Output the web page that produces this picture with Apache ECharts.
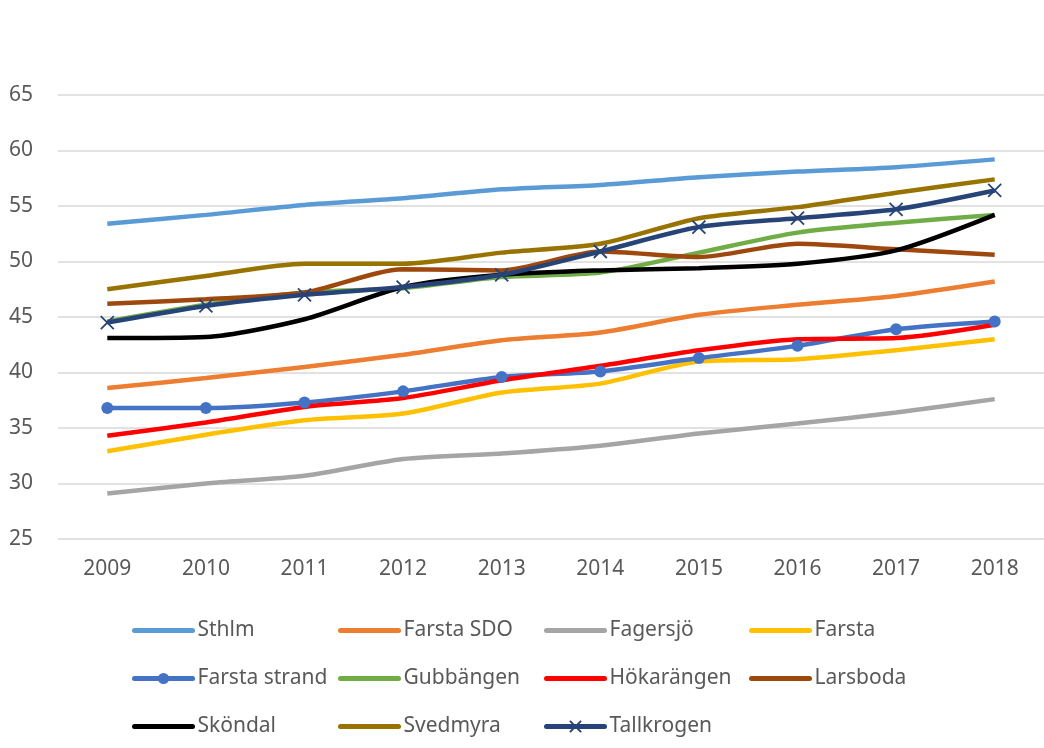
<!DOCTYPE html>
<html><head><meta charset="utf-8">
<script src="https://cdn.jsdelivr.net/npm/echarts@6/dist/echarts.min.js"></script>
<style>html,body{margin:0;padding:0;background:#fff}#c{width:1044px;height:748px}</style>
</head><body><div id="c"></div>
<script>
const years = ['2009','2010','2011','2012','2013','2014','2015','2016','2017','2018'];
const sthlm        = [53.4, 54.2, 55.1, 55.7, 56.5, 56.9, 57.6, 58.1, 58.5, 59.2];
const farstaSDO    = [38.6, 39.5, 40.5, 41.6, 42.9, 43.6, 45.2, 46.1, 46.9, 48.2];
const fagersjo     = [29.1, 30.0, 30.7, 32.2, 32.7, 33.4, 34.5, 35.4, 36.4, 37.6];
const farsta       = [32.9, 34.4, 35.7, 36.3, 38.2, 39.0, 41.0, 41.2, 42.0, 43.0];
const farstaStrand = [36.8, 36.8, 37.3, 38.3, 39.6, 40.1, 41.3, 42.4, 43.9, 44.6];
const gubbangen    = [44.6, 46.1, 47.2, 47.6, 48.6, 49.0, 50.8, 52.6, 53.5, 54.2];
const hokarangen   = [34.3, 35.5, 36.9, 37.7, 39.3, 40.6, 42.0, 43.0, 43.1, 44.3];
const larsboda     = [46.2, 46.6, 47.2, 49.3, 49.2, 50.9, 50.4, 51.6, 51.1, 50.6];
const skondal      = [43.1, 43.2, 44.8, 47.7, 48.8, 49.2, 49.4, 49.8, 51.0, 54.2];
const svedmyra     = [47.5, 48.7, 49.8, 49.8, 50.8, 51.6, 53.9, 54.9, 56.2, 57.4];
const tallkrogen   = [44.5, 46.0, 47.0, 47.7, 48.8, 50.9, 53.1, 53.9, 54.7, 56.4];

const seriesDefs = [
  {name:'Sthlm', data:sthlm, color:'#5B9BD5'},
  {name:'Farsta SDO', data:farstaSDO, color:'#ED7D31'},
  {name:'Fagersjö', data:fagersjo, color:'#A5A5A5'},
  {name:'Farsta', data:farsta, color:'#FFC000'},
  {name:'Farsta strand', data:farstaStrand, color:'#4472C4', symbol:'circle', symbolSize:12},
  {name:'Gubbängen', data:gubbangen, color:'#70AD47'},
  {name:'Hökarängen', data:hokarangen, color:'#FF0000'},
  {name:'Larsboda', data:larsboda, color:'#9E480E'},
  {name:'Sköndal', data:skondal, color:'#000000'},
  {name:'Svedmyra', data:svedmyra, color:'#997300'},
  {name:'Tallkrogen', data:tallkrogen, color:'#264478', symbol:'path://M0,0L10,10M10,0L0,10', symbolSize:13, cross:true}
];

const series = seriesDefs.map(d => {
  const s = {
    name:d.name, type:'line', data:d.data, smooth:0.25,
    color:d.color,
    lineStyle:{width:4.5, color:d.color},
    symbol:d.symbol || 'none',
    symbolSize:d.symbolSize || 0,
    showSymbol: !!d.symbol,
    emphasis:{disabled:true},
    animation:false
  };
  if (d.cross) s.itemStyle = {color:'none', borderColor:d.color, borderWidth:1.8};
  else if (d.symbol) s.itemStyle = {color:d.color};
  return s;
});

const legendText = {color:'#595959', fontSize:21, fontFamily:'Noto Sans'};
const cols = [
  ['Sthlm','Farsta strand','Sköndal'],
  ['Farsta SDO','Gubbängen','Svedmyra'],
  ['Fagersjö','Hökarängen','Tallkrogen'],
  ['Farsta','Larsboda']
];
const colLeft = [127, 333, 539, 744];
const hasMarker = n => seriesDefs.find(d => d.name === n).symbol;
const legends = cols.map((c,i) => ({
  data:c.map(n => hasMarker(n) ? {name:n} : {name:n, itemStyle:{opacity:0}}),
  orient:'vertical', left:colLeft[i], top:615,
  itemWidth:58, itemHeight:14, itemGap:27,
  lineStyle:{width:5, cap:'round'},
  textStyle:legendText, selectedMode:false
}));

const chart = echarts.init(document.getElementById('c'));
chart.setOption({
  animation:false,
  backgroundColor:'#fff',
  grid:{left:58, right:-7, top:95, bottom:209, containLabel:false},
  xAxis:{type:'category', data:years, boundaryGap:true,
    axisLine:{show:false}, axisTick:{show:false},
    axisLabel:{color:'#595959', fontSize:21, fontFamily:'Noto Sans', margin:20},
    splitLine:{show:false}},
  yAxis:{type:'value', min:25, max:65, interval:5,
    axisLine:{show:false}, axisTick:{show:false},
    axisLabel:{color:'#595959', fontSize:21, fontFamily:'Noto Sans', margin:25},
    splitLine:{lineStyle:{color:'#D9D9D9', width:1.5}}},
  legend:legends,
  series:series
});
</script></body></html>
